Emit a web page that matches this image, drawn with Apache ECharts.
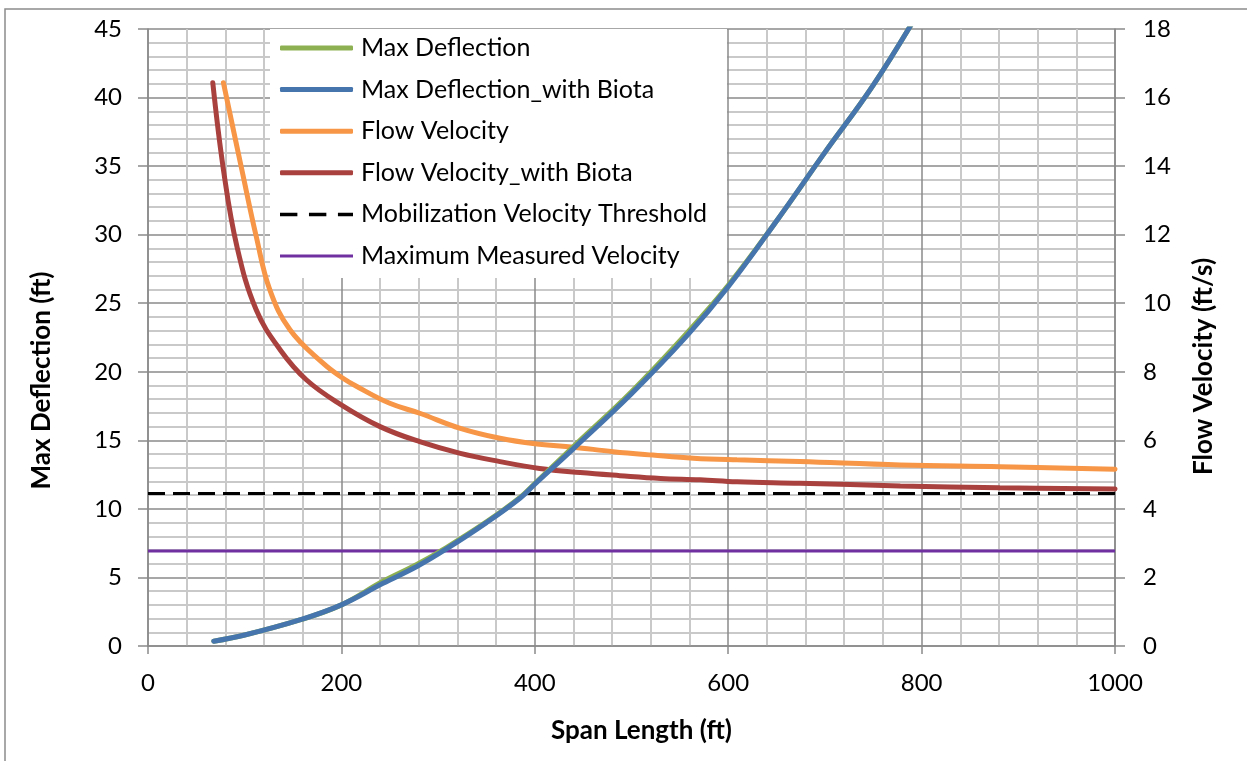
<!DOCTYPE html>
<html>
<head>
<meta charset="utf-8">
<script src="https://cdn.jsdelivr.net/npm/echarts@6/dist/echarts.min.js"></script>
<style>
html,body{margin:0;padding:0;background:#fff;}
#chart{width:1247px;height:761px;}
</style>
</head>
<body>
<div id="chart"></div>
<script>
// span length (ft) and max deflection (ft)
const deflSpan       = [68, 100, 157, 200, 243, 278, 309, 350, 385, 400, 440, 500, 557, 600, 650, 700, 750, 800];
const deflection     = [0.35, 0.8, 1.9, 3.0, 4.72, 5.95, 7.2, 9.05, 10.85, 11.85, 14.55, 18.55, 22.8, 26.3, 31.0, 36.0, 40.9, 46.6];
const deflBiota      = [0.35, 0.8, 1.9, 3.0, 4.57, 5.8, 7.1, 9.0, 10.8, 11.8, 14.4, 18.4, 22.6, 26.2, 31.0, 36.0, 40.9, 46.6];

// span length (ft) and flow velocity (ft/s)
const velSpan        = [78, 97, 112, 126, 147, 181, 200, 216, 250, 281, 323, 364, 400, 440, 481, 522, 564, 609, 674, 778, 881, 1000];
const velocity       = [16.43, 13.9, 11.94, 10.39, 9.22, 8.25, 7.84, 7.57, 7.08, 6.79, 6.35, 6.06, 5.9, 5.8, 5.67, 5.57, 5.48, 5.43, 5.38, 5.28, 5.23, 5.16];
const velBiotaSpan   = [67, 78, 92, 112, 137, 164, 199, 240, 281, 323, 364, 405, 447, 488, 530, 571, 609, 674, 778, 881, 1000];
const velBiota       = [16.43, 13.9, 11.65, 9.8, 8.63, 7.76, 7.05, 6.4, 5.96, 5.62, 5.38, 5.18, 5.06, 4.97, 4.89, 4.85, 4.79, 4.75, 4.67, 4.62, 4.58];

const thresholdSpan  = [0, 1000];
const threshold      = [4.45, 4.45];
const measuredSpan   = [0, 1000];
const measured       = [2.77, 2.77];

const pairs=(xs,ys)=>xs.map((x,i)=>[x,ys[i]]);

const font='Lato';
const majorColor='#8a8a8a';
const minorColor='#c9c9c9';

const chart=echarts.init(document.getElementById('chart'));
chart.setOption({
    backgroundColor:'#fff',
    animation:false,
    textStyle:{fontFamily:font},
    grid:{left:148,right:132,top:29,bottom:115,containLabel:false},
    legend:{
        orient:'vertical',
        left:280,
        top:35.5,
        padding:0,
        itemWidth:73,
        itemHeight:5,
        itemGap:16.6,
        z:6,
        textStyle:{fontFamily:font,fontSize:25,lineHeight:25,color:'#000',padding:[0,0,0,3]},
        data:[
            {name:'Max Deflection',icon:'roundRect'},
            {name:'Max Deflection_with Biota',icon:'roundRect'},
            {name:'Flow Velocity',icon:'roundRect'},
            {name:'Flow Velocity_with Biota',icon:'roundRect'},
            {name:'Mobilization Velocity Threshold',icon:'path://M0,0h15v3H0z M25,0h15v3H25z M50,0h13v3H50z'},
            {name:'Maximum Measured Velocity',icon:'path://M0,0h73v3H0z'}
        ]
    },
    graphic:[
        {type:'rect',z:5,silent:true,shape:{x:270,y:29,width:457,height:249},style:{fill:'#fff'}},
        {type:'rect',z:10,silent:true,shape:{x:5,y:9,width:1300,height:800},style:{fill:'none',stroke:'#8c8c8c',lineWidth:1.5}}
    ],
    xAxis:{
        type:'value',min:0,max:1000,interval:200,
        name:'Span Length (ft)',nameLocation:'middle',nameGap:72,
        nameTextStyle:{fontFamily:font,fontSize:26,fontWeight:'bold',color:'#000',padding:[0,0,0,20]},
        axisLine:{show:true,lineStyle:{color:majorColor,width:1.5}},
        axisTick:{show:true,length:8,lineStyle:{color:majorColor,width:1.5}},
        axisLabel:{margin:25,fontFamily:font,fontSize:24,color:'#000',formatter:v=>String(v)},
        splitLine:{show:true,lineStyle:{color:majorColor,width:1.5}},
        minorTick:{show:false,splitNumber:5},
        minorSplitLine:{show:true,lineStyle:{color:minorColor,width:2}}
    },
    yAxis:[
        {
            type:'value',min:0,max:45,interval:5,
            name:'Max Deflection (ft)',nameLocation:'middle',nameGap:93,
            nameTextStyle:{fontFamily:font,fontSize:26,fontWeight:'bold',color:'#000',padding:[0,86,0,0]},
            axisLine:{show:true,lineStyle:{color:majorColor,width:1.5}},
            axisTick:{show:true,length:10,lineStyle:{color:majorColor,width:1.5}},
            axisLabel:{margin:26,fontFamily:font,fontSize:24,color:'#000'},
            splitLine:{show:true,lineStyle:{color:majorColor,width:1.5}},
            minorTick:{show:false,splitNumber:5},
            minorSplitLine:{show:true,lineStyle:{color:minorColor,width:2}}
        },
        {
            type:'value',min:0,max:18,interval:2,position:'right',
            name:'Flow Velocity (ft/s)',nameLocation:'middle',nameGap:76,
            nameTextStyle:{fontFamily:font,fontSize:26,fontWeight:'bold',color:'#000',padding:[0,58,0,0]},
            axisLine:{show:true,lineStyle:{color:majorColor,width:1.5}},
            axisTick:{show:true,length:10,lineStyle:{color:majorColor,width:1.5}},
            axisLabel:{margin:28,fontFamily:font,fontSize:24,color:'#000'},
            splitLine:{show:false}
        }
    ],
    series:[
        {
            name:'Maximum Measured Velocity',type:'line',yAxisIndex:1,z:2,
            showSymbol:false,symbol:'none',
            lineStyle:{color:'#7030a0',width:3},itemStyle:{color:'#7030a0'},
            data:pairs(measuredSpan,measured)
        },
        {
            name:'Mobilization Velocity Threshold',type:'line',yAxisIndex:1,z:2,
            showSymbol:false,symbol:'none',
            lineStyle:{color:'#000',width:3,type:[17,8]},itemStyle:{color:'#000'},
            data:pairs(thresholdSpan,threshold)
        },
        {
            name:'Flow Velocity',type:'line',yAxisIndex:1,z:3,smooth:0.4,
            showSymbol:false,symbol:'none',
            lineStyle:{color:'#f79646',width:5,cap:'round'},itemStyle:{color:'#f79646'},
            data:pairs(velSpan,velocity)
        },
        {
            name:'Flow Velocity_with Biota',type:'line',yAxisIndex:1,z:3,smooth:0.4,
            showSymbol:false,symbol:'none',
            lineStyle:{color:'#a9423f',width:5,cap:'round'},itemStyle:{color:'#a9423f'},
            data:pairs(velBiotaSpan,velBiota)
        },
        {
            name:'Max Deflection',type:'line',yAxisIndex:0,z:4,smooth:0.4,
            showSymbol:false,symbol:'none',
            lineStyle:{color:'#8db052',width:5,cap:'round'},itemStyle:{color:'#8db052'},
            data:pairs(deflSpan,deflection)
        },
        {
            name:'Max Deflection_with Biota',type:'line',yAxisIndex:0,z:4,smooth:0.4,
            showSymbol:false,symbol:'none',
            lineStyle:{color:'#4675ad',width:5,cap:'round'},itemStyle:{color:'#4675ad'},
            data:pairs(deflSpan,deflBiota)
        }
    ]
});
</script>
</body>
</html>
